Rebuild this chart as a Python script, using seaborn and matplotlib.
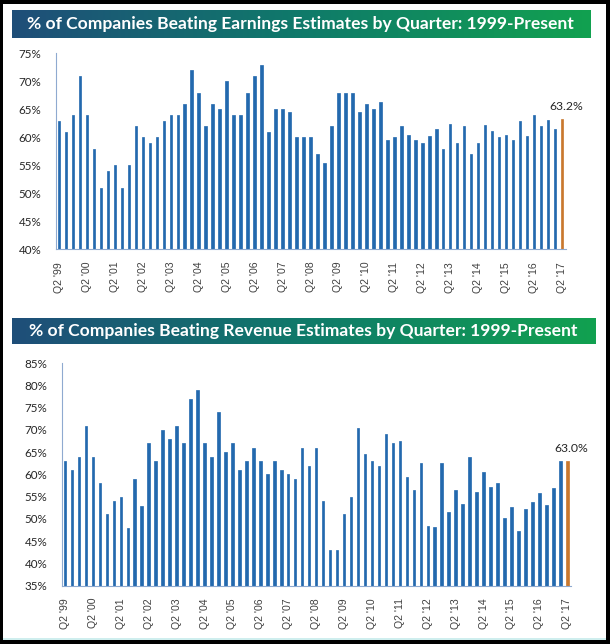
import numpy as np
import pandas as pd
import seaborn as sns
import matplotlib.pyplot as plt
from matplotlib.colors import LinearSegmentedColormap
from matplotlib.patches import Rectangle

# --- Datos ---
TRIMESTRES = [f"Q{(q % 4) + 1} '{(1999 + q // 4) % 100:02d}" for q in range(1, 74)]
ETIQUETAS_X = ["Q2 '99", "Q2 '00", "Q2 '01", "Q2 '02", "Q2 '03", "Q2 '04", "Q2 '05",
               "Q2 '06", "Q2 '07", "Q2 '08", "Q2 '09", "Q2 '10", "Q2 '11", "Q2 '12",
               "Q2 '13", "Q2 '14", "Q2 '15", "Q2 '16", "Q2 '17"]

EARNINGS = [63, 61, 64, 71, 64, 58, 51, 54, 55, 51, 55, 62, 60, 59, 60, 63,
            64, 64, 66, 72, 68, 62, 66, 65, 70, 64, 64, 68, 71, 73, 61, 65,
            65, 64.5, 60, 60, 60, 57, 55.5, 62, 68, 68, 68, 64.5, 66, 65,
            66.3, 59.5, 60, 62, 60.5, 59.5, 59, 60.2, 61.5, 58, 62.3, 59, 62,
            57, 59, 62.2, 61.2, 60, 60.5, 59.5, 63, 60.3, 64, 62, 63.1, 61.5, 63.2]

REVENUE = [63, 61, 64, 71, 64, 58, 51, 54, 55, 48, 59, 53, 67, 63, 70, 68,
           71, 67, 77, 79, 67, 64, 74, 65, 67, 61, 63, 66, 63, 60, 63, 61,
           60, 59, 66, 62, 66, 54, 43, 43, 51, 55, 70.5, 64.5, 63, 62, 69,
           67, 67.5, 59.5, 56.5, 62.6, 48.4, 48.2, 62.6, 51.6, 56.5, 53.3,
           63.9, 56.1, 60.6, 57.1, 58.1, 50.1, 52.6, 47.2, 52.3, 53.9, 55.9,
           53.1, 56.9, 63, 63.0]

TITULOS = ["% of Companies Beating Earnings Estimates by Quarter: 1999-Present",
           "% of Companies Beating Revenue Estimates by Quarter: 1999-Present"]
ETIQUETA_FINAL = ["63.2%", "63.0%"]

AZUL = "#2369AE"
NARANJA = "#C9782E"
W, H = 610, 644


def caja(l, t, r, b):
    """Convierte pixeles (izq, arriba, der, abajo) a coordenadas de figura"""
    return [l / W, 1 - b / H, (r - l) / W, (b - t) / H]


sns.set_style("white")
plt.rcParams["font.family"] = ["Lato", "DejaVu Sans"]

fig = plt.figure(figsize=(W / 100, H / 100), dpi=100, facecolor="black")
fig.patches.append(Rectangle((3 / W, 4 / H), 603 / W, 636 / H, transform=fig.transFigure,
                             facecolor="white", edgecolor="none", zorder=-2))
fig.patches.append(Rectangle((3 / W, 4 / H), 603 / W, 2 / H, transform=fig.transFigure,
                             facecolor="#cfeeee", edgecolor="none", zorder=-1))

gradiente = LinearSegmentedColormap.from_list("titulo", ["#1F4E79", "#0F7A6A", "#12A150"])

paneles = [
    dict(datos=EARNINGS, ylim=(40, 75), ax=(55.5, 53.3, 565.5, 249.3), barra=(11.7, 9.5, 590, 38)),
    dict(datos=REVENUE, ylim=(35, 85), ax=(61.5, 363.3, 570.8, 585.5), barra=(11.7, 318.3, 595, 344.3)),
]

for i, p in enumerate(paneles):
    # Barra de titulo con degradado
    tax = fig.add_axes(caja(*p["barra"]))
    tax.imshow(np.linspace(0, 1, 256)[None, :], aspect="auto", cmap=gradiente, extent=(0, 1, 0, 1))
    tax.set_axis_off()
    tax.text(0.5, 0.5, TITULOS[i], color="white", fontsize=12.6, fontweight="bold",
             ha="center", va="center", transform=tax.transAxes)

    ax = fig.add_axes(caja(*p["ax"]))
    df = pd.DataFrame({"trimestre": TRIMESTRES, "valor": p["datos"]})
    colores = [AZUL] * (len(df) - 1) + [NARANJA]
    sns.barplot(data=df, x="trimestre", y="valor", hue="trimestre", palette=colores,
                legend=False, width=0.36, saturation=1, ax=ax)
    for barra, c in zip(ax.patches, colores):
        barra.set_edgecolor(c)
        barra.set_linewidth(0.5)
    ax.set_xlim(-0.5, len(df) - 0.5)
    ax.set_ylim(*p["ylim"])
    ax.set_yticks(np.arange(p["ylim"][0], p["ylim"][1] + 1, 5))
    ax.set_yticklabels([f"{v:.0f}%" for v in ax.get_yticks()], fontsize=8.4, color="#262626")
    ax.set_xticks(range(0, len(df), 4))
    ax.set_xticklabels(ETIQUETAS_X, rotation=90, fontsize=7.6, color="#404040",
                       family="Liberation Sans")
    ax.tick_params(length=0)
    ax.tick_params(axis="y", pad=10)
    ax.tick_params(axis="x", pad=9)
    ax.set_xlabel("")
    ax.set_ylabel("")
    sns.despine(ax=ax)
    for lado in ["left", "bottom"]:
        ax.spines[lado].set_color("#8faad0")
        ax.spines[lado].set_linewidth(0.8)
    ax.annotate(ETIQUETA_FINAL[i], (len(df) - 1, p["datos"][-1]), xytext=(3, 5),
                textcoords="offset points", ha="center", va="bottom", fontsize=8.8, color="#262626")

fig.savefig("out.png", dpi=100, facecolor=fig.get_facecolor())
